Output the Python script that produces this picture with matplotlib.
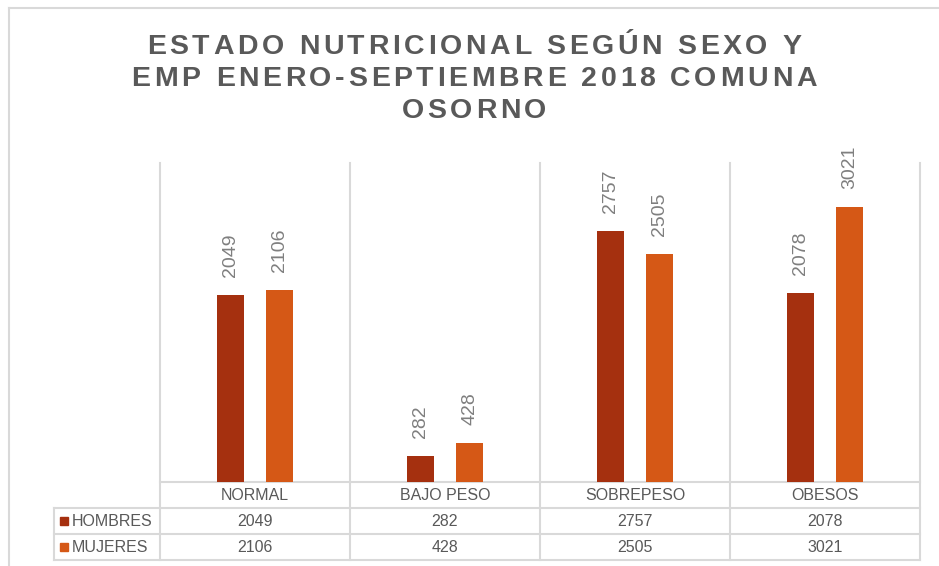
"""Estado nutricional segun sexo y EMP - Osorno 2018: grouped bars + data table."""
import matplotlib
matplotlib.use("Agg")
import matplotlib.pyplot as plt
import matplotlib.transforms as mtransforms
from matplotlib.font_manager import FontProperties, findfont, get_font
from matplotlib.lines import Line2D
from matplotlib.patches import Rectangle

categories = ["NORMAL", "BAJO PESO", "SOBREPESO", "OBESOS"]
series_names = ["HOMBRES", "MUJERES"]
hombres = [2049, 282, 2757, 2078]
mujeres = [2106, 428, 2505, 3021]
title_lines = [
    "ESTADO NUTRICIONAL SEGÚN SEXO Y",
    "EMP ENERO-SEPTIEMBRE 2018 COMUNA",
    "OSORNO",
]

COLORS = ["#A5300F", "#D55816"]
GRID = "#D9D9D9"
TEXT = "#595959"
LABEL = "#7F7F7F"
W, H = 939, 566
FONT = "Liberation Sans"

plt.rcParams["font.family"] = [FONT, "DejaVu Sans"]

fig = plt.figure(figsize=(W / 100, H / 100), dpi=100)
fig.patch.set_facecolor("white")


def px(x, y):
    return x / W, 1 - y / H


# outer chart frame (top and left edges visible)
fig.add_artist(Line2D([px(9, 0)[0], 1], [px(0, 8)[1]] * 2, color=GRID, lw=1.5))
fig.add_artist(Line2D([px(9, 0)[0]] * 2, [0, px(0, 8)[1]], color=GRID, lw=1.5))


def spaced_title(text, xc, yc, spacing, size):
    prop = FontProperties(family=FONT, weight="bold", size=size)
    font = get_font(findfont(prop))
    font.set_size(size, 100)
    adv = [font.load_char(ord(ch)).linearHoriAdvance / 65536 for ch in text]
    total = sum(adv) + spacing * (len(text) - 1)
    x = xc - total / 2
    for ch, a in zip(text, adv):
        fx, fy = px(x + a / 2, yc)
        fig.text(fx, fy, ch, ha="center", va="center", fontproperties=prop, color=TEXT)
        x += a + spacing


for i, line in enumerate(title_lines):
    spaced_title(line, 474, 47 + i * 32, 3.6, 20.5)

# plot area
left, right, top, base = 160, 920, 163, 482
ax = fig.add_axes([left / W, 1 - base / H, (right - left) / W, (base - top) / H])
ax.set_xlim(-0.5, len(categories) - 0.5)
ax.set_ylim(0, 3500)
ax.axis("off")

bw, off = 0.137, 0.129
for k, (vals, col) in enumerate(zip([hombres, mujeres], COLORS)):
    xs = [i + (-off if k == 0 else off) for i in range(len(categories))]
    bars = ax.bar(xs, vals, width=bw, color=col, zorder=3)
    ax.bar_label(bars, labels=[str(v) for v in vals], rotation=90, padding=13,
                 fontsize=14, color=LABEL)

# table drawn below the plot area
tr = mtransforms.blended_transform_factory(ax.transData, ax.transAxes)
row_h = 26 / (base - top)
tab_left = -0.5 - (left - 54) / 190
rows_y = [0, -row_h, -2 * row_h, -3 * row_h]
lkw = dict(color=GRID, lw=1.5, transform=tr, clip_on=False, zorder=1)

for b in [i - 0.5 for i in range(len(categories) + 1)]:
    ax.plot([b, b], [1, rows_y[-1]], **lkw)
ax.plot([-0.5, len(categories) - 0.5], [0, 0], **lkw)
for y in rows_y[1:]:
    ax.plot([tab_left, len(categories) - 0.5], [y, y], **lkw)
ax.plot([tab_left, tab_left], [rows_y[1], rows_y[-1]], **lkw)

for i, c in enumerate(categories):
    ax.text(i, -row_h / 2, c, ha="center", va="center", fontsize=11.5,
            color=TEXT, transform=tr)

for r, (name, vals, col) in enumerate(zip(series_names, [hombres, mujeres], COLORS)):
    yc = -(r + 1.5) * row_h
    sq_w, sq_h = 8 / 190, 8 / (base - top)
    ax.add_patch(Rectangle((tab_left + 6 / 190, yc - sq_h / 2), sq_w, sq_h,
                           color=col, transform=tr, clip_on=False))
    ax.text(tab_left + 18 / 190, yc, name, ha="left", va="center", fontsize=11.5,
            color=TEXT, transform=tr)
    for i, v in enumerate(vals):
        ax.text(i, yc, str(v), ha="center", va="center", fontsize=11.5,
                color=TEXT, transform=tr)

fig.savefig("out.png", dpi=100)
